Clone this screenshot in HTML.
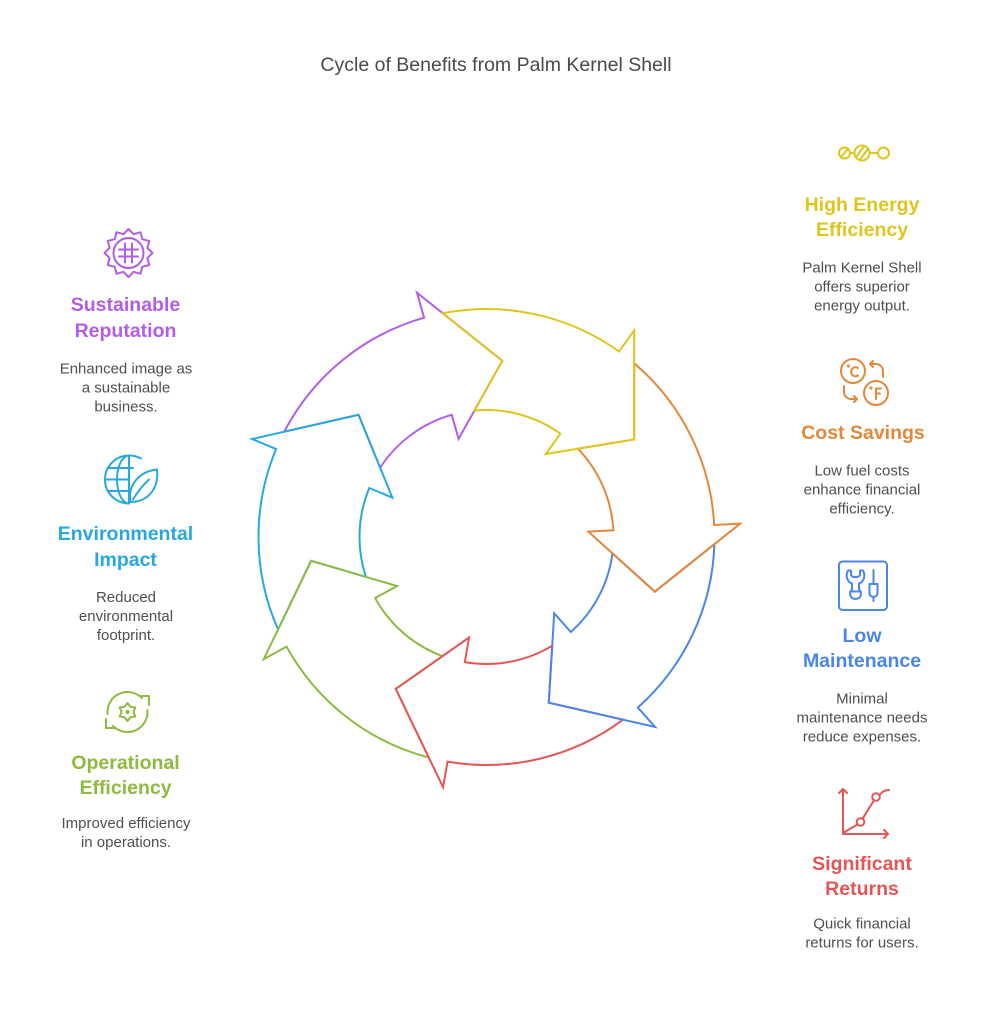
<!DOCTYPE html>
<html>
<head>
<meta charset="utf-8">
<style>
  html, body { margin:0; padding:0; background:#ffffff; }
  body { width:992px; height:1030px; overflow:hidden; }
  svg { display:block; }
  .t { font-family:"Liberation Sans", Arial, sans-serif; }
  .h { font-weight:bold; font-size:19.5px; text-anchor:middle; }
  .d { font-size:15px; fill:#4f4f4f; text-anchor:middle; }
</style>
</head>
<body>
<svg width="992" height="1030" viewBox="0 0 992 1030" xmlns="http://www.w3.org/2000/svg">
  <rect width="992" height="1030" fill="#ffffff"/>

  <!-- Title -->
  <text class="t" x="496" y="71" font-size="19.5" fill="#4a4a4a" text-anchor="middle">Cycle of Benefits from Palm Kernel Shell</text>

  <!-- Cycle arrows -->
  <g fill="none" stroke-width="2" stroke-linejoin="miter">
    <g transform="translate(486.5,537) rotate(254.12)">
      <path stroke="#B35CE6" d="M156.63,-165.68 A228,228 0 0,1 228,0 L254,0 L165.24,63.43 L102,0 L127,0 A127,127 0 0,0 95.84,-83.33 L152.62,-89.64 Z"/>
    </g>
    <g transform="translate(486.5,537) rotate(202.69)">
      <path stroke="#27A8DE" d="M156.63,-165.68 A228,228 0 0,1 228,0 L254,0 L165.24,63.43 L102,0 L127,0 A127,127 0 0,0 95.84,-83.33 L152.62,-89.64 Z"/>
    </g>
    <g transform="translate(486.5,537) rotate(151.27)">
      <path stroke="#8DBB3F" d="M156.63,-165.68 A228,228 0 0,1 228,0 L254,0 L165.24,63.43 L102,0 L127,0 A127,127 0 0,0 95.84,-83.33 L152.62,-89.64 Z"/>
    </g>
    <g transform="translate(486.5,537) rotate(99.84)">
      <path stroke="#E65555" d="M156.63,-165.68 A228,228 0 0,1 228,0 L254,0 L165.24,63.43 L102,0 L127,0 A127,127 0 0,0 95.84,-83.33 L152.62,-89.64 Z"/>
    </g>
    <g transform="translate(486.5,537) rotate(48.41)">
      <path stroke="#4A86E8" d="M156.63,-165.68 A228,228 0 0,1 228,0 L254,0 L165.24,63.43 L102,0 L127,0 A127,127 0 0,0 95.84,-83.33 L152.62,-89.64 Z"/>
    </g>
    <g transform="translate(486.5,537) rotate(-3.02)">
      <path stroke="#E3883A" d="M156.63,-165.68 A228,228 0 0,1 228,0 L254,0 L165.24,63.43 L102,0 L127,0 A127,127 0 0,0 95.84,-83.33 L152.62,-89.64 Z"/>
    </g>
    <g transform="translate(486.5,537) rotate(-54.45)">
      <path stroke="#DFC51C" d="M156.63,-165.68 A228,228 0 0,1 228,0 L254,0 L165.24,63.43 L102,0 L127,0 A127,127 0 0,0 95.84,-83.33 L152.62,-89.64 Z"/>
    </g>
  </g>

  <!-- ===== Right column ===== -->
  <!-- High Energy icon -->
  <g fill="none" stroke="#DFC51C" stroke-width="2" stroke-linecap="round">
    <circle cx="844.5" cy="153" r="5.5"/>
    <line x1="841" y1="157" x2="848" y2="149"/>
    <line x1="850" y1="153" x2="854.5" y2="153"/>
    <circle cx="862" cy="153" r="7.5"/>
    <line x1="856.5" y1="156.5" x2="863.5" y2="147"/>
    <line x1="860.5" y1="159" x2="867.5" y2="149.5"/>
    <line x1="869.5" y1="153" x2="878" y2="153"/>
    <circle cx="883.5" cy="153" r="5.5"/>
  </g>
  <text class="t h" x="862" y="211" fill="#DFC51C">High Energy</text>
  <text class="t h" x="862" y="236" fill="#DFC51C">Efficiency</text>
  <text class="t d" x="862" y="272.5">Palm Kernel Shell</text>
  <text class="t d" x="862" y="291.5">offers superior</text>
  <text class="t d" x="862" y="310.5">energy output.</text>

  <!-- Cost Savings icon -->
  <g fill="none" stroke="#E3883A" stroke-width="2" stroke-linecap="round" stroke-linejoin="round">
    <circle cx="853" cy="371" r="12"/>
    <path d="M858,368 A4.5,4.5 0 1,0 858,375.5"/>
    <circle cx="848.5" cy="366" r="0.6"/>
    <circle cx="876" cy="393" r="12"/>
    <path d="M876,399 V388.5 H881 M876,393.5 H880"/>
    <circle cx="871" cy="388" r="0.6"/>
    <path d="M870,364 H876 A7,7 0 0,1 883,371 V377"/>
    <path d="M873,361 L870,364 L873,367"/>
    <path d="M844,386 V392 A7,7 0 0,0 851,399 H857"/>
    <path d="M854,396 L857,399 L854,402"/>
  </g>
  <text class="t h" x="863" y="439" fill="#E3883A">Cost Savings</text>
  <text class="t d" x="862" y="475.5">Low fuel costs</text>
  <text class="t d" x="862" y="494.5">enhance financial</text>
  <text class="t d" x="862" y="513.5">efficiency.</text>

  <!-- Low Maintenance icon -->
  <g fill="none" stroke="#4A86E8" stroke-width="2" stroke-linecap="round" stroke-linejoin="round">
    <rect x="839" y="561.5" width="48" height="48.5" rx="3.5"/>
    <path d="M848,570.5 C845,576 847.5,582 852,583.5 V589.5 C849,591 849,599 855.5,599 C862,599 862,591 859,589.5 V583.5 C863.5,582 866,576 863,570.5 L860,570.5 V574.5 C860,578 851,578 851,574.5 V570.5 Z"/>
    <line x1="852" y1="591.5" x2="859" y2="591.5"/>
    <path d="M873.5,570 V584 M869.5,584 H877.5 V593 C877.5,598 869.5,598 869.5,593 Z M873.5,597.5 V601"/>
  </g>
  <text class="t h" x="862" y="642" fill="#4A86E8">Low</text>
  <text class="t h" x="862" y="667" fill="#4A86E8">Maintenance</text>
  <text class="t d" x="862" y="703.5">Minimal</text>
  <text class="t d" x="862" y="722.5">maintenance needs</text>
  <text class="t d" x="862" y="741.5">reduce expenses.</text>

  <!-- Significant Returns icon -->
  <g fill="none" stroke="#E65555" stroke-width="2" stroke-linecap="round" stroke-linejoin="round">
    <path d="M843,834 V789"/>
    <path d="M839,793 L843,789 L847,793"/>
    <path d="M843,834 H888"/>
    <path d="M884,830 L888,834 L884,838"/>
    <path d="M843,833 L857.5,824.5"/>
    <circle cx="860.5" cy="822" r="3.8"/>
    <path d="M862.5,818.8 L874,800.2"/>
    <circle cx="876" cy="797" r="3.8"/>
    <path d="M879.6,795.2 C882,791.5 885,790 889,790"/>
  </g>
  <text class="t h" x="862" y="870" fill="#E65555">Significant</text>
  <text class="t h" x="862" y="895" fill="#E65555">Returns</text>
  <text class="t d" x="862" y="928.5">Quick financial</text>
  <text class="t d" x="862" y="947.5">returns for users.</text>

  <!-- ===== Left column ===== -->
  <!-- Sustainable Reputation icon -->
  <g transform="translate(128.5,253)" fill="none" stroke="#B35CE6" stroke-width="2" stroke-linejoin="round" stroke-linecap="round">
    <polygon points="0,-24 5.05,-18.84 12,-20.78 13.79,-13.79 20.78,-12 18.84,-5.05 24,0 18.84,5.05 20.78,12 13.79,13.79 12,20.78 5.05,18.84 0,24 -5.05,18.84 -12,20.78 -13.79,13.79 -20.78,12 -18.84,5.05 -24,0 -18.84,-5.05 -20.78,-12 -13.79,-13.79 -12,-20.78 -5.05,-18.84"/>
    <circle cx="0" cy="0" r="15"/>
    <line x1="-3.5" y1="-9.5" x2="-3.5" y2="9.5"/>
    <line x1="3.5" y1="-9.5" x2="3.5" y2="9.5"/>
    <line x1="-9.5" y1="-3.5" x2="9.5" y2="-3.5"/>
    <line x1="-9.5" y1="3.5" x2="9.5" y2="3.5"/>
  </g>
  <text class="t h" x="125.5" y="311" fill="#B35CE6">Sustainable</text>
  <text class="t h" x="125.5" y="337" fill="#B35CE6">Reputation</text>
  <text class="t d" x="126" y="373.5">Enhanced image as</text>
  <text class="t d" x="126" y="392.5">a sustainable</text>
  <text class="t d" x="126" y="411.5">business.</text>

  <!-- Environmental Impact icon -->
  <g fill="none" stroke="#27A8DE" stroke-width="2" stroke-linecap="round" stroke-linejoin="round">
    <path d="M129,455.5 A24,24 0 0,0 129,503.5"/>
    <path d="M129,455.5 V503.5"/>
    <path d="M129,455.5 A12,24 0 0,0 129,503.5"/>
    <path d="M129,455.5 A24,24 0 0,1 141,458.5"/>
    <path d="M107.5,468 H133"/>
    <path d="M105,479.5 H129"/>
    <path d="M107.5,491 H128"/>
    <path d="M130.5,502 C127.5,486 138.5,471.5 157,469.5 C159,488 148.5,502 130.5,502 Z"/>
    <path d="M133,499.5 C138,491 143,485 149,479.5"/>
  </g>
  <text class="t h" x="125.5" y="540" fill="#27A8DE">Environmental</text>
  <text class="t h" x="125.5" y="566" fill="#27A8DE">Impact</text>
  <text class="t d" x="126" y="602">Reduced</text>
  <text class="t d" x="126" y="621">environmental</text>
  <text class="t d" x="126" y="640">footprint.</text>

  <!-- Operational Efficiency icon -->
  <g fill="none" stroke="#8DBB3F" stroke-width="2" stroke-linecap="round" stroke-linejoin="round">
    <g transform="translate(127.5,712)">
      <polygon points="0,-9 3,-5.2 7.79,-4.5 6,0 7.79,4.5 3,5.2 0,9 -3,5.2 -7.79,4.5 -6,0 -7.79,-4.5 -3,-5.2"/>
      <circle cx="0" cy="0" r="1.2" fill="#8DBB3F"/>
    </g>
    <path d="M107.6,714 A20,20 0 0,1 141.9,698.1"/>
    <path d="M140,696 H149 V705"/>
    <path d="M147.4,710 A20,20 0 0,1 113.1,725.9"/>
    <path d="M106,719 V728 H115"/>
  </g>
  <text class="t h" x="125.5" y="769" fill="#8DBB3F">Operational</text>
  <text class="t h" x="125.5" y="794" fill="#8DBB3F">Efficiency</text>
  <text class="t d" x="126" y="828">Improved efficiency</text>
  <text class="t d" x="126" y="847">in operations.</text>
</svg>
</body>
</html>
